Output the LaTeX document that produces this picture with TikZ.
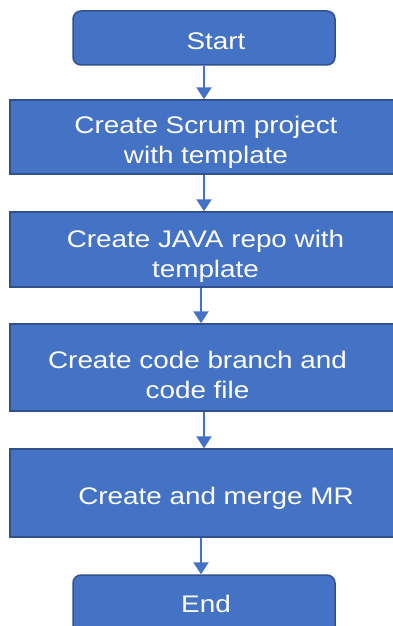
\documentclass[tikz,border=0pt]{standalone}
\usepackage{fontspec}
\setmainfont{Liberation Sans}
\usetikzlibrary{arrows.meta}
\definecolor{boxblue}{HTML}{4472C4}
\definecolor{edgeblue}{HTML}{2F528F}
\tikzset{
  stepbox/.style={draw=edgeblue,line width=1.5pt,fill=boxblue,inner sep=0pt,minimum width=388pt},
  endbox/.style={stepbox,rounded corners=8pt,minimum width=262pt,minimum height=54pt},
  steptext/.style={text=white,align=center,xscale=1.16,inner sep=0pt,font=\fontsize{24}{30}\selectfont},
  flow/.style={draw=boxblue,line width=2.8pt,-{Triangle[length=12pt,width=15pt]}}
}
\begin{document}
\begin{tikzpicture}[x=1pt,y=-1pt]
                \useasboundingbox (0,0) rectangle (392,626);
                % boxes
                \node[endbox] (start) at (204,38) {};
                \node[stepbox,minimum height=74pt] (scrum) at (204,137) {};
                \node[stepbox,minimum height=75pt] (repo) at (204,249.5) {};
                \node[stepbox,minimum height=87pt] (branch) at (204,367.5) {};
                \node[stepbox,minimum height=88pt] (merge) at (204,493) {};
                \node[endbox,minimum height=60pt] (end) at (204,605) {};
                % texts
                \node[steptext] (tstart) at (216,41.3) {Start};
                \node[steptext] (tscrum) at (206,141.8) {Create Scrum project\\with template};
                \node[steptext] (trepo) at (205.5,255.8) {Create JAVA repo with\\template};
                \node[steptext] (tbranch) at (197.5,374.8) {Create code branch and\\code file};
                \node[steptext] (tmerge) at (216,497.8) {Create and merge MR};
                \node[steptext] (tend) at (206,604.3) {End};
                % arrows
                \draw[flow] (start) -- (scrum);
                \draw[flow] (scrum) -- (repo);
                \draw[flow] ([xshift=-3pt]repo.south) -- ([xshift=-3pt]branch.north);
                \draw[flow] (branch) -- (merge);
                \draw[flow] ([xshift=-3pt]merge.south) -- ([xshift=-3pt]end.north);
\end{tikzpicture}
\end{document}
